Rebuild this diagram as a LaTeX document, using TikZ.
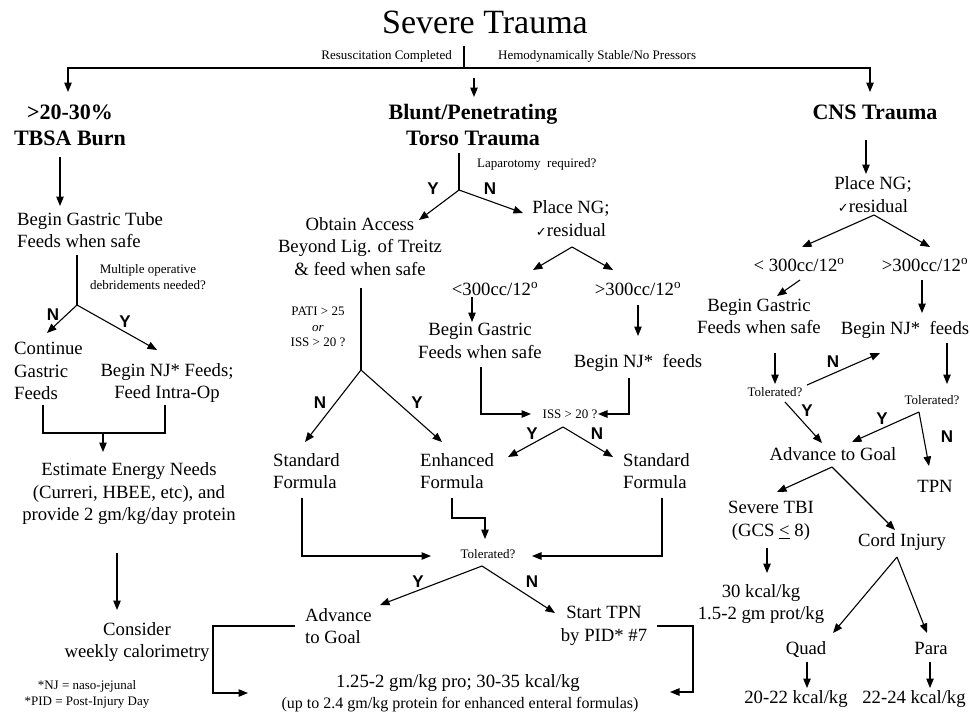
\documentclass[tikz,border=0pt]{standalone}
\usepackage{fontspec}
\setmainfont{Liberation Serif}
\newfontfamily\ynfont{Liberation Sans}
\newfontfamily\symfont{DejaVu Sans}
\usetikzlibrary{arrows.meta}
\newcommand{\chk}{{\symfont\fontsize{13}{13}\selectfont ✓}}
\newcommand{\dego}{\textsuperscript{o}}
\tikzset{
  txt/.style={inner sep=0pt, align=center, font=\fontsize{18.7}{22.5}\selectfont},
  txtl/.style={txt, align=left, anchor=west},
  hdr/.style={inner sep=0pt, align=center, font=\fontsize{22}{26}\selectfont\bfseries},
  sm/.style={inner sep=0pt, align=center, font=\fontsize{13}{15.5}\selectfont},
  yn/.style={inner sep=0pt, font=\fontsize{17}{17}\ynfont\bfseries},
  ln/.style={line width=1.1pt},
  arr/.style={ln, -{Triangle[length=9.5pt,width=7.5pt]}},
}
\begin{document}
\begin{tikzpicture}[x=1pt,y=-1pt]
\useasboundingbox (0,0) rectangle (970,716);
% ---------------- top
\node[inner sep=0pt, font=\fontsize{34}{38}\selectfont] (title) at (485,22) {Severe Trauma};
\node[sm, anchor=east] (resus) at (452,56) {Resuscitation Completed};
\node[sm, anchor=west] (hemo) at (498,56) {Hemodynamically Stable/No Pressors};
\coordinate (bt) at (464,46);
\coordinate (bb) at (464,68);
\coordinate (tl) at (68,92);
\coordinate (tr) at (870,92);
\coordinate (ct) at (474,78);
\coordinate (cb) at (474,97);
\draw[ln] (bt) -- (bb);
\draw[arr] (bb) -| (tl);
\draw[arr] (bb) -| (tr);
\draw[arr] (ct) -- (cb);
\node[hdr] (burn) at (70,125) {>20-30\%\\TBSA Burn};
\node[hdr] (torso) at (473,125) {Blunt/Penetrating\\Torso Trauma};
\node[hdr] (cns) at (875,112) {CNS Trauma};
% ---------------- left column
\coordinate (l1) at (60,157);
\coordinate (l2) at (60,206);
\draw[arr] (l1) -- (l2);
\node[txtl] (bgt) at (17,230) {Begin Gastric Tube\\Feeds when safe};
\coordinate (lq1) at (77,255);
\coordinate (lq) at (77,305);
\draw[ln] (lq1) -- (lq);
\node[sm] (multi) at (148,277) {Multiple operative\\debridements needed?};
\coordinate (lqn) at (47,333);
\coordinate (lqy) at (157,350);
\draw[arr] (lq) -- (lqn);
\draw[arr] (lq) -- (lqy);
\node[yn] (lN) at (53,315) {N};
\node[yn] (lY) at (125,322) {Y};
\node[txtl] (cont) at (14,371) {Continue\\Gastric\\Feeds};
\node[txt] (njf) at (167,383) {Begin NJ* Feeds;\\Feed Intra-Op};
\coordinate (bk1) at (43,405);
\coordinate (bk2) at (165,405);
\coordinate (bkm) at (103,433);
\coordinate (bkt) at (103,452);
\draw[ln] (bk1) |- (bkm) -| (bk2);
\draw[arr] (bkm) -- (bkt);
\node[txt] (est) at (129,494) {Estimate Energy Needs\\(Curreri, HBEE, etc), and\\provide 2 gm/kg/day protein};
\coordinate (e1) at (117,553);
\coordinate (e2) at (117,610);
\draw[arr] (e1) -- (e2);
\node[txt] (cons) at (137,642) {Consider\\weekly calorimetry};
\node[sm] (foot) at (87,694.5) {*NJ = naso-jejunal\\*PID = Post-Injury Day};
% ---------------- center column
\coordinate (cq1) at (459,153);
\coordinate (cq) at (459,190);
\draw[ln] (cq1) -- (cq);
\node[sm, anchor=west] (lap) at (477,164) {Laparotomy\ \ required?};
\coordinate (cqy) at (419,220);
\coordinate (cqn) at (523,213);
\draw[arr] (cq) -- (cqy);
\draw[arr] (cq) -- (cqn);
\node[yn] (cY) at (433,189) {Y};
\node[yn] (cN) at (490,189) {N};
\node[txt] (obt) at (360,246.5) {Obtain Access\\Beyond Lig. of Treitz\\\& feed when safe};
\node[txt] (png) at (571,218.5) {Place NG;\\\chk residual};
\coordinate (rq) at (572,247);
\coordinate (rql) at (533,270);
\coordinate (rqr) at (613,270);
\draw[arr] (rq) -- (rql);
\draw[arr] (rq) -- (rqr);
\node[txt] (lt300) at (495,289) {<300cc/12\dego};
\node[txt] (gt300) at (638,289) {>300cc/12\dego};
\coordinate (g1) at (472,297);
\coordinate (g2) at (472,322);
\draw[arr] (g1) -- (g2);
\node[txt] (bgf) at (480,341) {Begin Gastric\\Feeds when safe};
\coordinate (n1) at (638,305);
\coordinate (n2) at (638,336);
\draw[arr] (n1) -- (n2);
\node[txt] (bnj) at (638,363) {Begin NJ*\ \ feeds};
\node[sm] (iss) at (570,414) {ISS > 20 ?};
\coordinate (f1) at (481,367);
\coordinate (f2) at (531,414);
\draw[arr] (f1) |- (f2);
\coordinate (j1) at (629,378);
\coordinate (j2) at (598,414);
\draw[arr] (j1) |- (j2);
\node[sm] (pati) at (318,327) {PATI > 25\\\textit{or}\\ISS > 20 ?};
\coordinate (p1) at (361,288);
\coordinate (pq) at (361,370);
\draw[ln] (p1) -- (pq);
\coordinate (pqn) at (305,442);
\coordinate (pqy) at (442,442);
\draw[arr] (pq) -- (pqn);
\draw[arr] (pq) -- (pqy);
\node[yn] (pN) at (320,403) {N};
\node[yn] (pY) at (417,403) {Y};
\coordinate (iq) at (563,427);
\coordinate (iqy) at (508,457);
\coordinate (iqn) at (613,457);
\draw[arr] (iq) -- (iqy);
\draw[arr] (iq) -- (iqn);
\node[yn] (iY) at (532,434) {Y};
\node[yn] (iN) at (597,434) {N};
\node[txtl] (std1) at (273,471) {Standard\\Formula};
\node[txtl] (enh) at (420,471) {Enhanced\\Formula};
\node[txtl] (std2) at (623,471) {Standard\\Formula};
\node[sm] (tol) at (488,554) {Tolerated?};
\coordinate (s1a) at (302,498);
\coordinate (s1b) at (431,556);
\draw[arr] (s1a) |- (s1b);
\coordinate (ea) at (452,498);
\coordinate (eb) at (485,518);
\coordinate (ec) at (485,539);
\draw[arr] (ea) |- (eb) -- (ec);
\coordinate (s2a) at (662,498);
\coordinate (s2b) at (532,556);
\draw[arr] (s2a) |- (s2b);
\coordinate (tq) at (482,566);
\coordinate (tqy) at (380,605);
\coordinate (tqn) at (555,613);
\draw[arr] (tq) -- (tqy);
\draw[arr] (tq) -- (tqn);
\node[yn] (tY) at (418,582) {Y};
\node[yn] (tN) at (532,582) {N};
\node[txtl] (adv) at (305,626) {Advance\\to Goal};
\node[txt] (tpn) at (604,626) {Start TPN\\by PID* \#7};
\node[txt] (res1) at (458,683) {1.25-2 gm/kg pro; 30-35 kcal/kg};
\node[inner sep=0pt, font=\fontsize{16}{18}\selectfont] (res2) at (460,705) {(up to 2.4 gm/kg protein for enhanced enteral formulas)};
\coordinate (a1) at (295,626);
\coordinate (a2) at (213,626);
\coordinate (a3) at (248,693);
\draw[arr] (a1) -- (a2) |- (a3);
\coordinate (t1) at (657,626);
\coordinate (t2) at (693,626);
\coordinate (t3) at (670,692);
\draw[arr] (t1) -- (t2) |- (t3);
% ---------------- right column
\coordinate (k1) at (866,140);
\coordinate (k2) at (866,174);
\draw[arr] (k1) -- (k2);
\node[txt] (png2) at (873,194.5) {Place NG;\\\chk residual};
\coordinate (kq) at (874,215);
\coordinate (kql) at (802,247);
\coordinate (kqr) at (930,247);
\draw[arr] (kq) -- (kql);
\draw[arr] (kq) -- (kqr);
\node[txt] (klt) at (799,265) {< 300cc/12\dego};
\node[txt] (kgt) at (925,265) {>300cc/12\dego};
\coordinate (kg1) at (800,280);
\coordinate (kg2) at (777,296);
\draw[arr] (kg1) -- (kg2);
\node[txt] (kbgf) at (759,316.5) {Begin Gastric\\Feeds when safe};
\coordinate (kn1) at (922,280);
\coordinate (kn2) at (922,313);
\draw[arr] (kn1) -- (kn2);
\node[txt] (kbnj) at (905,330) {Begin NJ*\ \ feeds};
\coordinate (kt1) at (775,353);
\coordinate (kt2) at (775,384);
\draw[arr] (kt1) -- (kt2);
\node[sm] (ktol1) at (775,392) {Tolerated?};
\coordinate (kr1) at (807,385);
\coordinate (kr2) at (880,353);
\draw[arr] (kr1) -- (kr2);
\node[yn] (kN1) at (833,362) {N};
\coordinate (ku1) at (947,343);
\coordinate (ku2) at (947,384);
\draw[arr] (ku1) -- (ku2);
\node[sm] (ktol2) at (932,400) {Tolerated?};
\coordinate (ky1) at (785,402);
\coordinate (ky2) at (822,443);
\draw[arr] (ky1) -- (ky2);
\node[yn] (kY1) at (807,411) {Y};
\coordinate (kb) at (919,412);
\coordinate (kby) at (852,442);
\coordinate (kbn) at (929,466);
\draw[arr] (kb) -- (kby);
\draw[arr] (kb) -- (kbn);
\node[yn] (kY2) at (882,419) {Y};
\node[yn] (kN2) at (947,437) {N};
\node[txt] (kadv) at (833,454) {Advance to Goal};
\node[txt] (ktpn) at (935,486) {TPN};
\coordinate (ka) at (832,467);
\coordinate (kal) at (777,492);
\coordinate (kar) at (895,530);
\draw[arr] (ka) -- (kal);
\draw[arr] (ka) -- (kar);
\node[txt] (tbi) at (771,521) {Severe TBI\\(GCS \underline{<} 8)};
\coordinate (tb1) at (767,548);
\coordinate (tb2) at (767,573);
\draw[arr] (tb1) -- (tb2);
\node[txt] (kcal30) at (761,604) {30 kcal/kg\\1.5-2 gm prot/kg};
\node[txt] (cord) at (902,542) {Cord Injury};
\coordinate (cq2) at (897,557);
\coordinate (cql) at (833,633);
\coordinate (cqr) at (927,633);
\draw[arr] (cq2) -- (cql);
\draw[arr] (cq2) -- (cqr);
\node[txt] (quad) at (806,650) {Quad};
\node[txt] (para) at (931,648) {Para};
\coordinate (qa1) at (807,662);
\coordinate (qa2) at (807,688);
\draw[arr] (qa1) -- (qa2);
\coordinate (pa1) at (930,662);
\coordinate (pa2) at (930,688);
\draw[arr] (pa1) -- (pa2);
\node[txt] (q20) at (796,699) {20-22 kcal/kg};
\node[txt] (p22) at (914,699) {22-24 kcal/kg};
\end{tikzpicture}
\end{document}
